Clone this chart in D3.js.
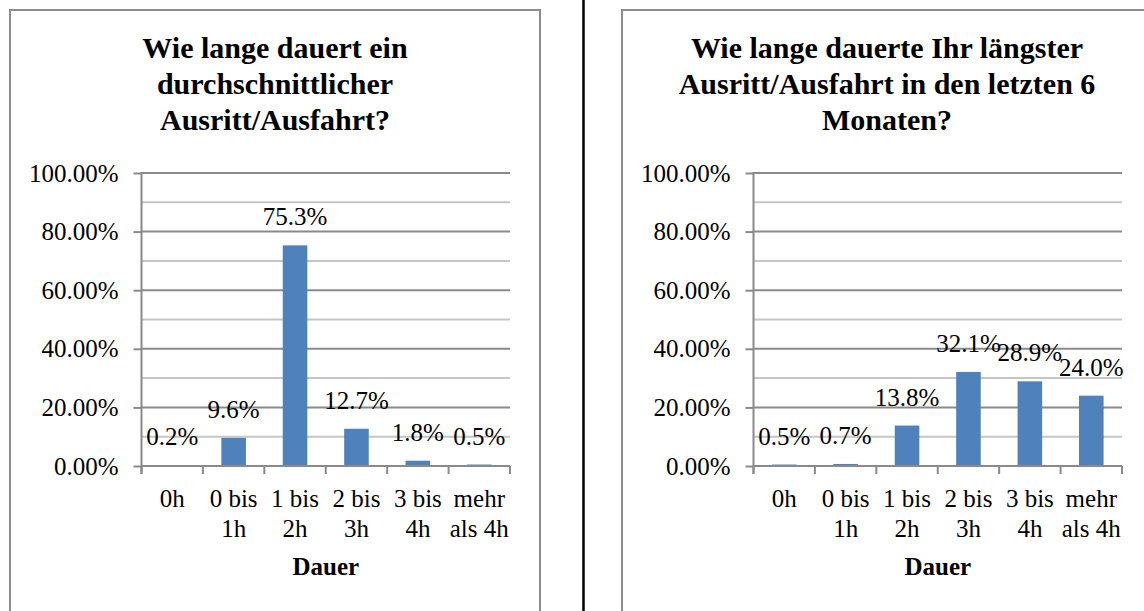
<!DOCTYPE html>
<html><head><meta charset="utf-8">
<script src="https://cdn.jsdelivr.net/npm/d3@7"></script>
<style>
body{margin:0;background:#fff}
</style>
</head><body><svg id="c" width="1144" height="611"></svg>
<script>
const categories = ["0h","0 bis 1h","1 bis 2h","2 bis 3h","3 bis 4h","mehr als 4h"];
const categoryLines = [["0h"],["0 bis","1h"],["1 bis","2h"],["2 bis","3h"],["3 bis","4h"],["mehr","als 4h"]];
const valuesAvg = [0.002,0.096,0.753,0.127,0.018,0.005];
const valuesLongest = [0.005,0.007,0.138,0.321,0.289,0.240];
const titleAvg = ["Wie lange dauert ein","durchschnittlicher","Ausritt/Ausfahrt?"];
const titleLongest = ["Wie lange dauerte Ihr längster","Ausritt/Ausfahrt in den letzten 6","Monaten?"];
const yTicks = [0,0.2,0.4,0.6,0.8,1.0];
const yMinor = [0.1,0.3,0.5,0.7,0.9];
const xTitle = "Dauer";

const FONT = "Liberation Serif, DejaVu Serif, serif";
const svg = d3.select("#c").attr("font-family", FONT).style("font-family", FONT);
const GRID_MAJOR = "#8a8a8a", GRID_MINOR = "#c6c6c6", BAR = "#4f81bd";

function txt(sel, size, bold){
  return sel.attr("font-family", FONT).style("font-family", FONT)
    .attr("font-size", size).style("font-size", size + "px")
    .attr("font-weight", bold ? "bold" : "normal").style("font-weight", bold ? "bold" : "normal")
    .attr("fill", "#000");
}

function drawChart(x0, values, titleLines){
  const g = svg.append("g");
  g.append("rect").attr("x", x0).attr("y", 10).attr("width", 530).attr("height", 700)
    .attr("fill","none").attr("stroke","#8c8c8c").attr("stroke-width",2);

  const t = txt(g.append("text").attr("text-anchor","middle"), 30, true);
  titleLines.forEach((l,i)=>t.append("tspan").attr("x", x0+265).attr("y", 58+i*36).text(l));

  const left = x0+131.5, right = x0+500, top = 173, bottom = 466;
  const y = d3.scaleLinear().domain([0,1]).range([bottom, top]);
  const x = d3.scaleBand().domain(categories).range([left, right]).paddingInner(0.6).paddingOuter(0.3);

  g.selectAll(".minor").data(yMinor).join("line")
    .attr("x1", left).attr("x2", right).attr("y1", d=>y(d)).attr("y2", d=>y(d))
    .attr("stroke", GRID_MINOR).attr("stroke-width", 2);
  g.selectAll(".major").data(yTicks).join("line")
    .attr("x1", left).attr("x2", right).attr("y1", d=>y(d)).attr("y2", d=>y(d))
    .attr("stroke", GRID_MAJOR).attr("stroke-width", 2);

  const ya = g.append("g").attr("transform", `translate(${left},0)`)
    .call(d3.axisLeft(y).tickValues(yTicks).tickFormat(d3.format(".2%")).tickSize(8).tickPadding(15));
  ya.attr("font-family", FONT).attr("font-size", 25);
  ya.select(".domain").remove();
  ya.selectAll("line").attr("stroke", GRID_MAJOR).attr("stroke-width", 2);
  txt(ya.selectAll("text"), 25, false);

  g.append("line").attr("x1", left).attr("x2", left).attr("y1", top-1).attr("y2", bottom+8)
    .attr("stroke", GRID_MAJOR).attr("stroke-width", 2);

  g.selectAll(".bar").data(values).join("rect")
    .attr("x", (d,i)=>x(categories[i])).attr("width", x.bandwidth())
    .attr("y", d=>y(d)).attr("height", d=>bottom - y(d)).attr("fill", BAR);

  g.append("line").attr("x1", left).attr("x2", right).attr("y1", bottom).attr("y2", bottom)
    .attr("stroke", GRID_MAJOR).attr("stroke-width", 2);
  const off = (x.step()-x.bandwidth())/2;
  const bounds = categories.map(c=>x(c)-off).concat([x(categories[categories.length-1])+x.bandwidth()+off]);
  g.selectAll(".xt").data(bounds).join("line")
    .attr("x1", d=>d).attr("x2", d=>d).attr("y1", bottom).attr("y2", bottom+8)
    .attr("stroke", GRID_MAJOR).attr("stroke-width", 2);

  const fmt = d3.format(".1%");
  txt(g.selectAll(".lbl").data(values).join("text")
    .attr("x", (d,i)=>x(categories[i])+x.bandwidth()/2).attr("y", d=>y(d)-20)
    .attr("text-anchor","middle"), 25, false).text(d=>fmt(d));

  categoryLines.forEach((lines,i)=>{
    const tx = txt(g.append("text").attr("text-anchor","middle"), 25, false);
    lines.forEach((l,j)=>tx.append("tspan").attr("x", x(categories[i])+x.bandwidth()/2).attr("y", 507+j*30).text(l));
  });

  txt(g.append("text").attr("x", (left+right)/2).attr("y", 575).attr("text-anchor","middle"), 25, true).text(xTitle);
}

drawChart(10, valuesAvg, titleAvg);
drawChart(622, valuesLongest, titleLongest);

svg.append("line").attr("x1", 583.5).attr("x2", 583.5).attr("y1", 0).attr("y2", 611)
  .attr("stroke","#000").attr("stroke-width",2.5);
</script>
</body></html>
